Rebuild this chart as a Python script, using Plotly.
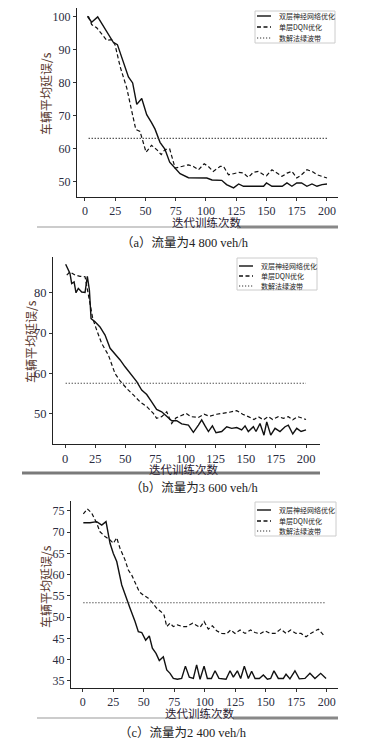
import plotly.graph_objects as go

W, H = 371, 742

# ---------------- data ----------------
names = ["双层神经网络优化", "单层DQN优化", "数解法绿波带"]
x_ticks = [0, 25, 50, 75, 100, 125, 150, 175, 200]

# (a) 4800 veh/h
a_solid_x = [2, 5.5, 10.5, 23.4, 26.8, 31.7, 35.9, 39.4, 42.8, 46.9, 51, 55, 57.9, 62, 66, 70, 74.5, 78.6,
             85.5, 95, 100.7, 105, 113, 117, 122.8, 127, 131, 139, 147.6, 150, 154.5, 163, 166.9, 171, 175,
             179, 183.4, 187.6, 191.7, 195.9, 200]
a_solid_y = [100.2, 98.4, 100, 92.3, 91.6, 86.6, 81.8, 80, 73.5, 75.3, 70.4, 68, 66, 62, 60, 56, 54, 52.5,
             51.3, 51.2, 51.2, 50.6, 50.5, 49.2, 48.2, 49.4, 48.7, 48.7, 48.7, 49.7, 48.7, 48.7, 49.7, 48.7, 49.7,
             49.7, 48.7, 49.4, 48.7, 49.2, 49.4]
a_dash_x = [2.8, 5.5, 9.7, 15, 18, 22, 24.8, 29, 31.7, 34.5, 37.8, 42, 45.5, 50.5, 55, 59.3, 63, 66, 70, 74.5,
            80, 85.5, 89.6, 93.8, 98.5, 102, 106, 111.7, 114.5, 118.6, 122.8, 127, 131, 135, 139, 143.4, 147.6,
            150, 154.5, 158.6, 162.8, 167, 171, 175, 179, 183.4, 187.6, 191.7, 195.9, 200]
a_dash_y = [100.2, 97.7, 96.7, 94.1, 92.9, 93.1, 91.6, 85, 82, 78.5, 72.9, 65.9, 65.3, 59, 61.1, 59.8, 58.3, 59.8,
            60, 54.2, 54.7, 55.2, 54.7, 53.7, 55.5, 54.7, 53.2, 54.7, 54.7, 52.2, 52.5, 52.9, 52.7, 51.4, 52.9,
            53.2, 52.2, 51.9, 53.7, 52.7, 51.7, 52.7, 53.2, 51.2, 52.2, 53.7, 53.2, 52.2, 51.7, 51.2]
a_band_x = [3, 200]
a_band_y = [63.2, 63.2]

# (b) 3600 veh/h
b_solid_x = [0.5, 4.1, 5.5, 7.5, 9.1, 11, 13.8, 16.6, 18.5, 20.2, 21.6, 24.9, 29, 33.2, 37.4, 41.5, 45.7, 49.8,
             54, 56.7, 59.5, 63.6, 67.8, 71.9, 76, 80.2, 84.4, 88.5, 92.7, 96.8, 102.4, 106.5, 110.7, 113.4,
             116.2, 119, 122.3, 125.3, 130, 134.2, 138.3, 142.5, 146.6, 149.4, 152.1, 156.3, 158.5, 161.8,
             165.1, 167.4, 170.7, 174.3, 178.4, 182.6, 185.3, 189, 192.3, 195.9, 200]
b_solid_y = [87.1, 84.8, 82.3, 82.7, 80, 81.1, 80.2, 80.1, 84.1, 80.7, 73.6, 72.8, 71.5, 69.5, 66.2, 64.9, 63.3,
             61.6, 59.9, 59.1, 57.9, 55.8, 54.7, 52.9, 51, 50.4, 49.2, 48.2, 48.2, 47.4, 47.1, 45.3, 47.1, 48.4,
             46.9, 45.5, 46.9, 45.2, 45.5, 46.7, 46.3, 46.5, 45.9, 46.9, 45.5, 46.7, 45.5, 47.5, 44.6, 47.9,
             44.6, 46.3, 45.5, 46.7, 47.1, 44.9, 46.3, 45.5, 45.9]
b_dash_x = [1.4, 4.1, 8.3, 12.4, 16.6, 19.4, 23, 26.3, 30.4, 36, 41.5, 45.7, 51.2, 56.7, 62.2, 67.8, 73.3, 76,
            80.2, 84.4, 88.5, 92.1, 96.8, 100.4, 104.3, 110.7, 115.4, 119.8, 125.9, 130.8, 136.4, 142.5, 147.4,
            152.1, 156.8, 160.4, 164.6, 168.7, 172.3, 177, 181.2, 185.3, 189, 193.1, 200]
b_dash_y = [84.4, 85.2, 84.4, 84.1, 84, 79, 73.6, 70.7, 67.4, 64.5, 59.9, 58.1, 56.2, 54.6, 52.9, 51.7, 50, 48.8,
            49.2, 50.4, 47.5, 48.9, 49.6, 50, 49.2, 49, 49.8, 49.3, 49.8, 50, 50.3, 50.7, 49.8, 49.2, 48.5, 49.2,
            48.4, 49.2, 48.5, 49.2, 48.8, 49.2, 48.4, 49.2, 48.5]
b_band_x = [0.5, 200]
b_band_y = [57.5, 57.5]

# (c) 2400 veh/h
c_solid_x = [0.5, 6, 11.5, 15.6, 19.1, 22.4, 25.1, 27.9, 32, 34.7, 38.8, 42.9, 45.6, 48.4, 51.6, 54.6, 57.1, 60.1,
             62.8, 66.1, 68.9, 71.6, 74.3, 77.6, 81.1, 84.2, 87.4, 90.7, 93.4, 96.2, 99.5, 102.2, 105.5, 108.5,
             111.7, 117.5, 120.8, 123.5, 126.8, 129.5, 132.5, 135.8, 138.5, 141.3, 144.8, 148.1, 151.4, 154.1,
             156.8, 160.4, 164.5, 166.7, 169.9, 174, 177.6, 182.2, 186.3, 190.4, 195.1, 199.5]
c_solid_y = [72.25, 72.25, 72.5, 71.7, 72.5, 67.4, 65, 63.1, 57.6, 55.2, 52.1, 49, 46.6, 46.4, 44.6, 45.6, 42.7,
             41.5, 39.8, 40.7, 37.6, 36.8, 35.6, 35.4, 35.6, 38.5, 35.9, 35.6, 38.8, 35.4, 38.5, 35.6, 35.6, 37.4,
             35.6, 35.4, 37.4, 35.9, 37.4, 35.6, 38.5, 35.6, 37.3, 35.6, 35.6, 36.4, 35.4, 35.6, 37.4, 35.6, 35.6,
             36.6, 35.5, 37.4, 35.5, 35.6, 36.8, 35.6, 36.8, 35.6]
c_dash_x = [0.5, 3.8, 7.4, 11.5, 14.2, 18.3, 22.4, 25.1, 27.9, 30.6, 34.7, 37.4, 40.2, 42.9, 46.4, 49.7, 53.8, 57.4,
            60.7, 64.2, 66.7, 68.9, 71.6, 74.3, 77.6, 82, 85.2, 90.2, 93.4, 96.2, 99.5, 103, 106.3, 109.8, 113.9,
            118, 121.3, 124.9, 129, 133.1, 137.7, 141.3, 145.4, 149.5, 153.6, 157.7, 162.3, 166.7, 170.5, 174.9,
            179, 183.1, 186.9, 193.2, 198.6]
c_dash_y = [74.3, 75.5, 74.5, 72.1, 70.1, 69, 68.2, 67.4, 68.7, 66.2, 63.5, 61.1, 59.9, 58, 56, 55.2, 54.5, 53.3,
            52.1, 51.3, 50.5, 47.8, 48.6, 47.8, 48.2, 47.8, 47.8, 48.6, 48, 47.6, 49, 47.2, 48, 46.8, 46.2, 46.1,
            47, 46.2, 47, 46.2, 47, 46.4, 46.1, 46.8, 46.2, 46.2, 47.2, 46.2, 47, 46.2, 46.2, 45.4, 46.2, 47.2, 45.4]
c_band_x = [0.5, 198.6]
c_band_y = [53.4, 53.4]

a_y_ticks = [50, 60, 70, 80, 90, 100]
b_y_ticks = [50, 60, 70, 80]
c_y_ticks = [35, 40, 45, 50, 55, 60, 65, 70, 75]

captions = ["（a）流量为4 800 veh/h", "（b）流量为3 600 veh/h", "（c）流量为2 400 veh/h"]
x_title = "迭代训练次数"
y_title = "车辆平均延误/s"

# ---------------- helpers ----------------
def px(x):
    return x / W

def py(y):
    return 1 - y / H

SERIF = "Liberation Serif, Noto Sans CJK SC, serif"
CJK = "Noto Sans CJK SC, sans-serif"
INK = "#111111"
styles = [dict(color=INK, width=1.4), dict(color=INK, width=1.2, dash="4px,2.5px"),
          dict(color="#333333", width=1.1, dash="1.2px,1.8px")]

fig = go.Figure()

panels = [
    dict(sx=a_solid_x, sy=a_solid_y, dx=a_dash_x, dy=a_dash_y, bx=a_band_x, by=a_band_y,
         xd=[77, 338], yd=[197, 8], xr=[-6.6, 209.1], yr=[45.45, 102.7], yt=a_y_ticks, fs=12,
         box=(255, 11, 335, 43), rows=(16, 27, 38), samp=(257, 271), tx=277),
    dict(sx=b_solid_x, sy=b_solid_y, dx=b_dash_x, dy=b_dash_y, bx=b_band_x, by=b_band_y,
         xd=[53, 320], yd=[444, 257], xr=[-10, 211.6], yr=[42.4, 88.9], yt=b_y_ticks, fs=12.5,
         box=(237, 258, 317, 290), rows=(266, 276, 286), samp=(239, 253), tx=259),
    dict(sx=c_solid_x, sy=c_solid_y, dx=c_dash_x, dy=c_dash_y, bx=c_band_x, by=c_band_y,
         xd=[71, 338], yd=[688, 501], xr=[-9.6, 209.3], yr=[33.35, 77.35], yt=c_y_ticks, fs=12,
         box=(255, 502, 336, 536), rows=(510, 521, 531), samp=(257, 271), tx=277),
]

for i, p in enumerate(panels):
    k = "" if i == 0 else str(i + 1)
    xa, ya = "x" + k, "y" + k
    series = [(p["sx"], p["sy"]), (p["dx"], p["dy"]), (p["bx"], p["by"])]
    for j, (xs, ys) in enumerate(series):
        fig.add_trace(go.Scatter(x=xs, y=ys, mode="lines", name=names[j], xaxis=xa, yaxis=ya,
                                 showlegend=False, line=styles[j], hoverinfo="skip"))
    axfont = dict(family=SERIF, size=p["fs"], color="#2a2c40")
    fig.layout["xaxis" + k] = dict(
        domain=[px(p["xd"][0]), px(p["xd"][1])], anchor=ya, range=p["xr"],
        tickmode="array", tickvals=x_ticks, ticks="outside", ticklen=3, tickcolor="#333",
        showline=True, linecolor="#222", linewidth=1, showgrid=False, zeroline=False,
        tickfont=axfont, fixedrange=True)
    fig.layout["yaxis" + k] = dict(
        domain=[py(p["yd"][0]), py(p["yd"][1])], anchor=xa, range=p["yr"],
        tickmode="array", tickvals=p["yt"], ticks="outside", ticklen=3, tickcolor="#333",
        showline=True, linecolor="#222", linewidth=1, showgrid=False, zeroline=False,
        tickfont=axfont, fixedrange=True)

    # legend box drawn in paper space
    bx0, by0, bx1, by1 = p["box"]
    fig.add_shape(type="rect", xref="paper", yref="paper", x0=px(bx0), x1=px(bx1), y0=py(by1), y1=py(by0),
                  line=dict(color="#cccccc", width=1), fillcolor="white", layer="above")
    for j in range(3):
        ry = p["rows"][j]
        st = dict(styles[j])
        st["width"] = 1.4 if j < 2 else 1.0
        fig.add_shape(type="line", xref="paper", yref="paper", x0=px(p["samp"][0]), x1=px(p["samp"][1]),
                      y0=py(ry), y1=py(ry), line=st, layer="above")
        fig.add_annotation(x=px(p["tx"]), y=py(ry), xref="paper", yref="paper", text=names[j],
                           showarrow=False, xanchor="left", yanchor="middle",
                           font=dict(family=CJK, size=7, color="#222"))

# axis titles and captions (paper-positioned annotations)
xt_pos = [(207, 222), (183, 469), (199, 713)]
yt_pos = [(46, 94), (31, 342), (45, 587)]
cap_pos = [(185, 243), (194, 488), (183, 733)]
for i in range(3):
    fig.add_annotation(x=px(xt_pos[i][0]), y=py(xt_pos[i][1]), xref="paper", yref="paper",
                       text=x_title, showarrow=False, xanchor="center", yanchor="middle",
                       font=dict(family=CJK, size=11.5, color="#2a2030"))
    fig.add_annotation(x=px(yt_pos[i][0]), y=py(yt_pos[i][1]), xref="paper", yref="paper",
                       text=y_title, showarrow=False, xanchor="center", yanchor="middle", textangle=-90,
                       font=dict(family=CJK, size=12, color="#5a3a30"))
    fig.add_annotation(x=px(cap_pos[i][0]), y=py(cap_pos[i][1]), xref="paper", yref="paper",
                       text=captions[i], showarrow=False, xanchor="center", yanchor="middle",
                       font=dict(family=SERIF, size=12.5, color="#222"))

# separator rules under each panel
rules = [
    (37, 338, 227, 1, "#999999"), (237, 338, 227, 3, "#888888"),
    (22, 320, 473, 3, "#7a7a7a"),
    (37, 338, 718, 1, "#999999"), (233, 338, 718, 3, "#888888"),
]
for x0, x1, yy, w, c in rules:
    fig.add_shape(type="line", xref="paper", yref="paper", x0=px(x0), x1=px(x1), y0=py(yy), y1=py(yy),
                  line=dict(color=c, width=w), layer="below")

fig.update_layout(width=W, height=H, margin=dict(l=0, r=0, t=0, b=0),
                  paper_bgcolor="white", plot_bgcolor="white", showlegend=False)

fig.write_html("out.html", config={"displayModeBar": False},
               post_script="document.body.style.margin='0';document.body.style.overflow='hidden';")
